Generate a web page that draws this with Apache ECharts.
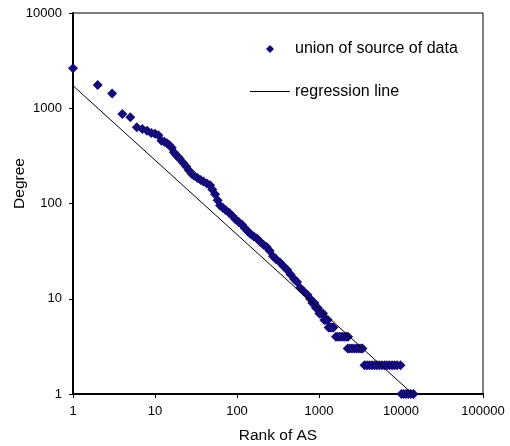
<!DOCTYPE html>
<html>
<head>
<meta charset="utf-8">
<script src="https://cdn.jsdelivr.net/npm/echarts@6/dist/echarts.min.js"></script>
<style>
  html, body { margin: 0; padding: 0; background: #fff; }
  #chart { width: 510px; height: 446px; }
</style>
</head>
<body>
<div id="chart"></div>
<script>
// rank of AS vs degree
var ranks = [
  1, 2, 3, 4, 5, 6, 7, 8, 9, 10, 11,
  12, 13, 14, 15, 16, 17, 18, 19, 20, 22, 24, 26, 28, 30, 33, 36, 39, 43, 47,
  50, 54, 58, 62, 67, 73, 80, 88, 96, 105, 115, 125, 135, 145, 160, 175, 190,
  210, 230, 250, 275, 300, 335, 370, 410, 450, 500, 540, 590, 650, 720, 780,
  830, 880, 920, 970,
  1010, 1060, 1120, 1160, 1220, 1280, 1310, 1370, 1440, 1500,
  1610, 1700, 1800, 1910, 2030, 2150, 2260,
  2240, 2380, 2530, 2700, 2880, 3070, 3250, 3390,
  3590, 3850, 4130, 4430, 4750, 5100, 5470, 5870, 6300, 6760, 7250, 7780, 8350, 8960, 9860,
  10140, 10800, 11500, 12300, 13200, 14200
];
var degrees = [
  2630, 1750, 1430, 870, 805, 630, 605, 580, 550, 540, 520,
  455, 445, 430, 410, 385, 345, 325, 310, 295, 268, 245, 222, 205, 195, 185, 177, 170, 162, 155,
  140, 125, 108, 95, 90, 85, 80, 74, 68, 64, 60, 55, 51, 48, 45, 43, 40,
  37, 35, 32, 28, 26, 24, 22, 20, 18, 16, 15, 13, 12, 11, 10,
  9, 9, 8, 8,
  7, 7, 7, 6, 6, 6, 5, 5, 5, 5,
  4, 4, 4, 4, 4, 4, 4,
  3, 3, 3, 3, 3, 3, 3, 3,
  2, 2, 2, 2, 2, 2, 2, 2, 2, 2, 2, 2, 2, 2, 2,
  1, 1, 1, 1, 1, 1
];
// regression line end points
var lineRanks = [1, 13900];
var lineDegrees = [1725, 1];

var xTickLabels = ['1', '10', '100', '1000', '10000', '100000'];
var yTickLabels = ['1', '10', '100', '1000', '10000'];

var pointData = ranks.map(function (r, i) { return [r, degrees[i]]; });
var lineData = lineRanks.map(function (r, i) { return [r, lineDegrees[i]]; });

var font = 'Liberation Sans';
var chart = echarts.init(document.getElementById('chart'));
chart.setOption({
  animation: false,
  textStyle: { fontFamily: font, color: '#000' },
  grid: {
    left: 73, right: 27, top: 13, bottom: 52,
    outerBoundsMode: 'none', containLabel: false,
    show: true, borderColor: '#000', borderWidth: 1
  },
  legend: [
    {
      data: [{ name: 'union of source of data', icon: 'diamond' }],
      left: 266, top: 41, padding: 0,
      itemWidth: 8, itemHeight: 8,
      textStyle: { fontFamily: font, fontSize: 16, color: '#000', padding: [0, 0, 0, 16] }
    },
    {
      data: [{ name: 'regression line', icon: 'rect' }],
      left: 250, top: 83.5, padding: 0,
      itemWidth: 40, itemHeight: 1,
      itemStyle: { color: '#000' },
      textStyle: { fontFamily: font, fontSize: 16, color: '#000' }
    }
  ],
  xAxis: {
    type: 'log', logBase: 10, min: 1, max: 100000,
    name: 'Rank of AS', nameLocation: 'middle', nameGap: 34,
    nameTextStyle: { fontFamily: font, fontSize: 15.5, color: '#000' },
    axisLine: { lineStyle: { color: '#000', width: 2 } },
    axisTick: { length: 4, lineStyle: { color: '#000', width: 1 } },
    axisLabel: {
      margin: 11, fontSize: 13, color: '#000', fontFamily: font,
      formatter: function (v, i) { return xTickLabels[i]; }
    },
    splitLine: { show: false }
  },
  yAxis: {
    type: 'log', logBase: 10, min: 1, max: 10000,
    name: 'Degree', nameLocation: 'middle', nameGap: 45, nameMoveOverlap: false,
    nameTextStyle: { fontFamily: font, fontSize: 15.5, color: '#000', padding: [0, 0, 0, 40] },
    axisLine: { lineStyle: { color: '#000', width: 2 } },
    axisTick: { length: 4, lineStyle: { color: '#000', width: 1 } },
    axisLabel: {
      margin: 11, fontSize: 13, color: '#000', fontFamily: font,
      formatter: function (v, i) { return yTickLabels[i]; }
    },
    splitLine: { show: false }
  },
  series: [
    {
      name: 'union of source of data',
      type: 'scatter',
      symbol: 'diamond',
      symbolSize: 10,
      itemStyle: { color: '#140a78', opacity: 1 },
      data: pointData,
      z: 2
    },
    {
      name: 'regression line',
      type: 'line',
      symbol: 'none',
      lineStyle: { color: '#000', width: 1 },
      itemStyle: { color: '#000' },
      data: lineData,
      z: 3
    }
  ]
});
</script>
</body>
</html>
